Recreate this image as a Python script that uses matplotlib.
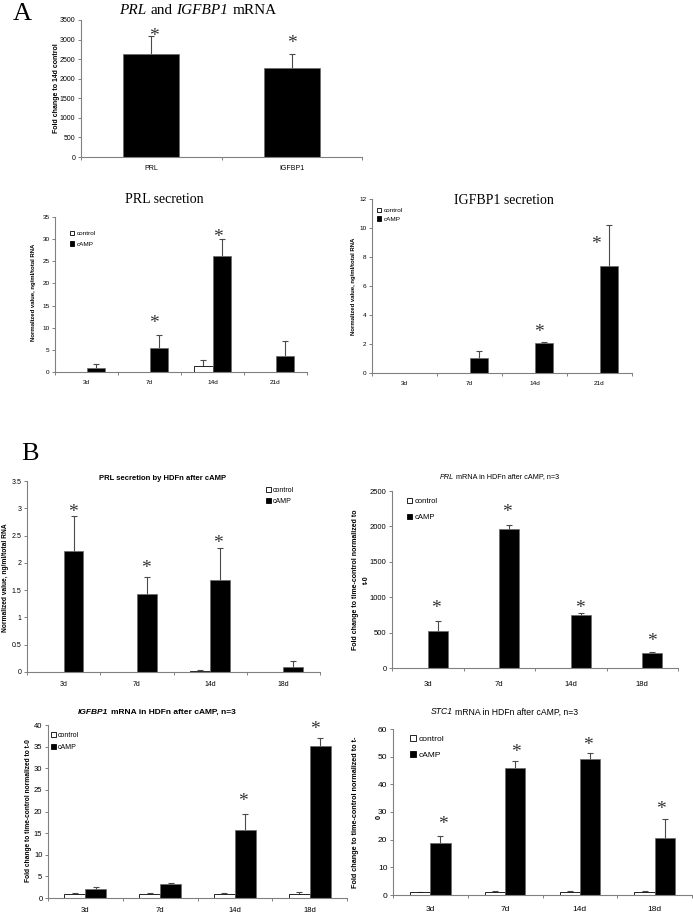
import matplotlib
matplotlib.use('Agg')
import matplotlib.pyplot as plt
from matplotlib.patches import Patch
from matplotlib.ticker import FuncFormatter
import numpy as np

W, H = 693, 913
fig = plt.figure(figsize=(W / 100, H / 100), dpi=100)

SANS = ['Liberation Sans', 'DejaVu Sans']
NARROW = ['Liberation Sans Narrow', 'Liberation Sans', 'DejaVu Sans']
SERIF = ['Liberation Serif', 'DejaVu Serif']

# ---------------- data ----------------
legend_labels = ['control', 'cAMP']

# A: PRL and IGFBP1 mRNA
a_cats = ['PRL', 'IGFBP1']
a_vals = [2620, 2280]
a_err = [460, 360]
a_star_x = [0.52, 1.50]
a_star_y = [3190, 3015]

# A: PRL secretion
ps_days = ['3d', '7d', '14d', '21d']
ps_ctrl = [0, 0, 1.35, 0]
ps_ctrl_err = [0, 0, 1.25, 0]
ps_camp = [0.9, 5.4, 26.3, 3.5]
ps_camp_err = [0.8, 3.0, 3.8, 3.4]
ps_star_x = [1.57, 2.59]
ps_star_y = [12.0, 31.4]

# A: IGFBP1 secretion
is_days = ['3d', '7d', '14d', '21d']
is_ctrl = [0, 0, 0, 0]
is_ctrl_err = [0, 0, 0, 0]
is_camp = [0, 1.0, 2.04, 7.4]
is_camp_err = [0, 0.52, 0.1, 2.8]
is_star_x = [2.57, 3.45]
is_star_y = [3.1, 9.2]

# B: PRL secretion by HDFn
bps_days = ['3d', '7d', '14d', '18d']
bps_ctrl = [0, 0, 0.02, 0]
bps_ctrl_err = [0, 0, 0.01, 0]
bps_camp = [2.22, 1.43, 1.68, 0.1]
bps_camp_err = [0.64, 0.31, 0.60, 0.10]
bps_star_x = [0.63, 1.62, 2.61]
bps_star_y = [3.0, 1.98, 2.44]

# B: PRL mRNA
bpm_days = ['3d', '7d', '14d', '18d']
bpm_ctrl = [1, 1, 1, 1]
bpm_ctrl_err = [0, 0, 0, 0]
bpm_camp = [525, 1970, 745, 215]
bpm_camp_err = [135, 45, 25, 15]
bpm_star_x = [0.62, 1.61, 2.63, 3.64]
bpm_star_y = [904, 2260, 904, 438]

# B: IGFBP1 mRNA
bim_days = ['3d', '7d', '14d', '18d']
bim_ctrl = [1.0, 1.0, 1.0, 1.0]
bim_ctrl_err = [0.1, 0.1, 0.05, 0.3]
bim_camp = [2.1, 3.35, 15.8, 35.2]
bim_camp_err = [0.35, 0.1, 3.6, 1.8]
bim_star_x = [2.61, 3.57]
bim_star_y = [23.4, 40.0]

# B: STC1 mRNA
bsm_days = ['3d', '7d', '14d', '18d']
bsm_ctrl = [1, 1, 1, 1]
bsm_ctrl_err = [0.2, 0.3, 0.5, 0.5]
bsm_camp = [18.8, 45.9, 49.2, 20.5]
bsm_camp_err = [2.4, 2.5, 2.2, 6.8]
bsm_star_x = [0.67, 1.65, 2.61, 3.59]
bsm_star_y = [27.1, 53.1, 55.7, 32.5]

# ---------------- helpers ----------------
AXC = '#808080'
ERRC = '#4a4a4a'
STARC = '#333333'


def fx(px):
    return px / W


def fy(py):
    return 1 - py / H


def make_ax(x0, x1, ytop, ybot, ymax, ystep, labels, tickfont, ticksize, xpad_px):
    ncat = len(labels)
    ax = fig.add_axes([fx(x0), fy(ybot), (x1 - x0) / W, (ybot - ytop) / H])
    ax.set_xlim(0, ncat)
    ax.set_ylim(0, ymax)
    ax.patch.set_alpha(0)
    for s in ['top', 'right']:
        ax.spines[s].set_visible(False)
    for s in ['left', 'bottom']:
        ax.spines[s].set_color(AXC)
        ax.spines[s].set_linewidth(0.8)
    ax.set_yticks(np.arange(0, ymax + ystep / 2, ystep))
    ax.yaxis.set_major_formatter(FuncFormatter(lambda v, p: f'{v:g}'))
    ax.set_xticks(np.arange(ncat + 1))
    ax.set_xticklabels([])
    ax.set_xticks(np.arange(ncat) + 0.5, minor=True)
    ax.set_xticklabels(labels, minor=True)
    ax.tick_params(axis='both', which='major', direction='out', length=2.5,
                   width=0.7, color=AXC, labelsize=ticksize)
    ax.tick_params(axis='y', pad=1.5)
    ax.tick_params(axis='x', which='minor', length=0, pad=xpad_px * 0.72,
                   labelsize=ticksize)
    for lab in ax.get_yticklabels() + ax.get_xticklabels(minor=True):
        lab.set_family(tickfont)
    return ax


def upper_err(ax, x, y, e):
    x = np.asarray(x, float)
    y = np.asarray(y, float)
    e = np.asarray(e, float)
    m = e > 0
    ax.vlines(x[m], y[m], y[m] + e[m], color=ERRC, lw=0.8, zorder=1)
    ax.plot(x[m], y[m] + e[m], ls='none', marker='_', ms=4.5, mew=0.8,
            color=ERRC, zorder=1)


def stars(ax, xs, ys, size=14):
    for x, y in zip(xs, ys):
        ax.annotate('*', (x, y), xytext=(0, -0.47 * size), textcoords='offset points',
                    ha='center', va='baseline', fontsize=size, family=SERIF,
                    color=STARC, annotation_clip=False)


def grouped(ax, ctrl, ctrl_err, camp, camp_err, w):
    n = len(camp)
    c = np.arange(n) + 0.5
    ax.bar(c - w / 2, ctrl, width=w, color='white', edgecolor='black', lw=0.6, zorder=2)
    ax.bar(c + w / 2, camp, width=w, color='black', edgecolor='#6a6a6a', lw=0.5, zorder=2)
    upper_err(ax, c - w / 2, ctrl, ctrl_err)
    upper_err(ax, c + w / 2, camp, camp_err)


def legend(ax, x_px, ytop_px, spacing, size=5.0, family=SANS):
    handles = [Patch(facecolor='white', edgecolor='black', lw=0.6),
               Patch(facecolor='black', edgecolor='black', lw=0.6)]
    leg = ax.legend(handles, legend_labels, loc='upper left',
                    bbox_to_anchor=(fx(x_px), fy(ytop_px)), bbox_transform=fig.transFigure,
                    frameon=False, handlelength=0.7, handleheight=0.7, handletextpad=0.3,
                    labelspacing=spacing, borderpad=0, borderaxespad=0,
                    prop={'family': family, 'size': size})
    return leg


def rich(xc, yc, tokens, size, family):
    r = fig.canvas.get_renderer()
    objs = []
    for s, style, weight in tokens:
        objs.append(fig.text(0, 0, s, fontsize=size, family=family, style=style,
                             weight=weight, ha='left', va='center'))
    widths = [t.get_window_extent(r).width for t in objs]
    w_style = tokens[-1][2]
    t1 = fig.text(0, 0, 'a a', fontsize=size, family=family, weight=w_style)
    t2 = fig.text(0, 0, 'aa', fontsize=size, family=family, weight=w_style)
    space = t1.get_window_extent(r).width - t2.get_window_extent(r).width
    t1.remove()
    t2.remove()
    total = sum(widths) + space * (len(objs) - 1)
    x = xc - total / 2
    for t, w in zip(objs, widths):
        t.set_position((fx(x), fy(yc)))
        x += w + space


def ylab(x, y, s, size, family=SANS, weight='bold'):
    fig.text(fx(x), fy(y), s, rotation=90, ha='center', va='center',
             fontsize=size, family=family, weight=weight)


# ---------------- Panel A: mRNA ----------------
axA = make_ax(81, 362, 20, 157, 3500, 500, a_cats, NARROW, 5, 8)
cA = np.arange(len(a_vals)) + 0.5
axA.bar(cA, a_vals, width=0.4, color='black', edgecolor='#6a6a6a', lw=0.5, zorder=2)
upper_err(axA, cA, a_vals, a_err)
stars(axA, a_star_x, a_star_y)
ylab(56, 88, 'Fold change to 14d control', 5.0)
rich(198, 10, [('PRL', 'italic', 'normal'), ('and', 'normal', 'normal'),
               ('IGFBP1', 'italic', 'normal'), ('mRNA', 'normal', 'normal')], 11, SERIF)
fig.text(fx(22), fy(14), 'A', fontsize=19, family=SERIF, ha='center', va='center')

# ---------------- Panel A: PRL secretion ----------------
axP = make_ax(55, 307, 217, 372, 35, 5, ps_days, SANS, 4.6, 8)
grouped(axP, ps_ctrl, ps_ctrl_err, ps_camp, ps_camp_err, 0.3)
stars(axP, ps_star_x, ps_star_y)
legend(axP, 70, 231, 0.75, size=4.6)
ylab(33, 292, 'Normalized value, ng/ml/total RNA', 4.3)
fig.text(fx(164), fy(199), 'PRL secretion', fontsize=10, family=SERIF, ha='center', va='center')

# ---------------- Panel A: IGFBP1 secretion ----------------
axI = make_ax(372, 632, 199, 373, 12, 2, is_days, SANS, 4.6, 8)
grouped(axI, is_ctrl, is_ctrl_err, is_camp, is_camp_err, 0.28)
stars(axI, is_star_x, is_star_y)
legend(axI, 377, 208, 0.45, size=4.6)
ylab(354, 286, 'Normalized value, ng/ml/total RNA', 4.3)
fig.text(fx(504), fy(200), 'IGFBP1 secretion', fontsize=10, family=SERIF, ha='center', va='center')

# ---------------- Panel B: PRL secretion ----------------
fig.text(fx(30), fy(454), 'B', fontsize=19, family=SERIF, ha='center', va='center')
axB1 = make_ax(27, 320, 481, 672, 3.5, 0.5, bps_days, SANS, 5, 9)
grouped(axB1, bps_ctrl, bps_ctrl_err, bps_camp, bps_camp_err, 0.27)
stars(axB1, bps_star_x, bps_star_y)
legend(axB1, 266, 487, 0.6, size=5)
ylab(6, 578, 'Normalized value, ng/ml/total RNA', 4.8)
fig.text(fx(163), fy(478), 'PRL secretion by HDFn after cAMP', fontsize=5.5, family=SANS,
         weight='bold', ha='center', va='center')

# ---------------- Panel B: PRL mRNA ----------------
axB2 = make_ax(392, 678, 491, 668, 2500, 500, bpm_days, NARROW, 5.5, 13)
grouped(axB2, bpm_ctrl, bpm_ctrl_err, bpm_camp, bpm_camp_err, 0.28)
stars(axB2, bpm_star_x, bpm_star_y)
legend(axB2, 407, 498, 1.1, size=5.5, family=NARROW)
ylab(355, 580, 'Fold change to time-control normalized to', 5.0)
ylab(366, 580, 't-0', 5.0)
rich(499, 477, [('PRL', 'italic', 'normal'), ('mRNA in HDFn after cAMP, n=3', 'normal', 'normal')],
     5.2, NARROW)

# ---------------- Panel B: IGFBP1 mRNA ----------------
axB3 = make_ax(48, 347, 725, 898, 40, 5, bim_days, SANS, 5.5, 9)
grouped(axB3, bim_ctrl, bim_ctrl_err, bim_camp, bim_camp_err, 0.28)
stars(axB3, bim_star_x, bim_star_y)
legend(axB3, 51, 732, 0.7, size=5)
ylab(28, 811, 'Fold change to time-control normalized to t-0', 4.8)
rich(157, 712, [('IGFBP1', 'italic', 'bold'), ('mRNA in HDFn after cAMP, n=3', 'normal', 'bold')],
     6, SANS)

# ---------------- Panel B: STC1 mRNA ----------------
axB4 = make_ax(393, 692, 729, 895, 60, 10, bsm_days, NARROW, 6, 11)
grouped(axB4, bsm_ctrl, bsm_ctrl_err, bsm_camp, bsm_camp_err, 0.27)
stars(axB4, bsm_star_x, bsm_star_y)
legend(axB4, 410, 735, 1.0, size=6, family=NARROW)
ylab(355, 812, 'Fold change to time-control normalized to t-', 5.2)
ylab(379, 817, '0', 5.2)
rich(504, 712, [('STC1', 'italic', 'normal'), ('mRNA in HDFn after cAMP, n=3', 'normal', 'normal')],
     6.2, NARROW)

fig.savefig('out.png', dpi=100)
